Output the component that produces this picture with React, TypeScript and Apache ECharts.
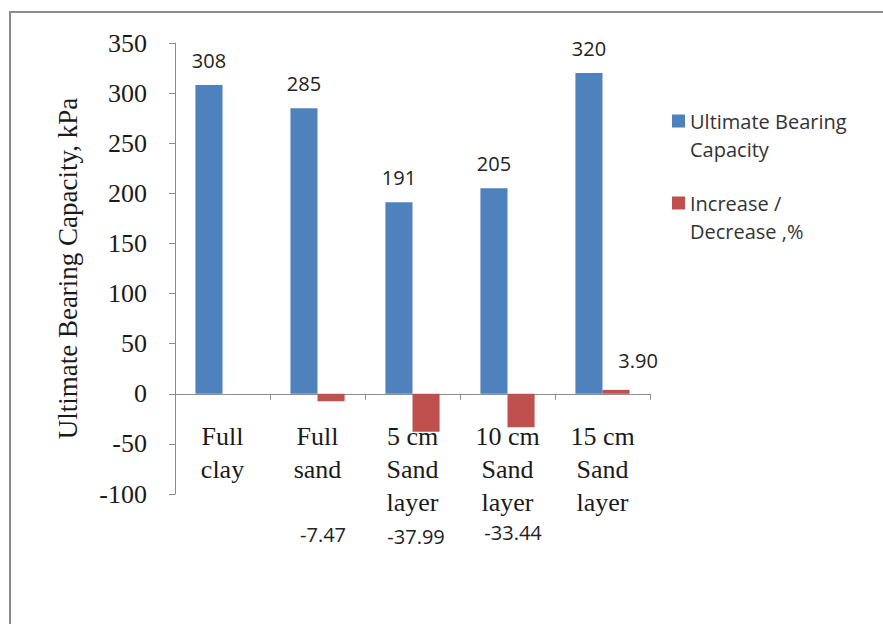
import React, { useEffect, useRef } from "react";
import * as echarts from "echarts";

const categories = ["Full\nclay", "Full\nsand", "5 cm\nSand\nlayer", "10 cm\nSand\nlayer", "15 cm\nSand\nlayer"];
const bearingCapacity = [308, 285, 191, 205, 320];
const changePercent: (number | null)[] = [null, -7.47, -37.99, -33.44, 3.9];
const seriesNames = ["Ultimate Bearing\nCapacity", "Increase /\nDecrease ,%"];
const yTicks = { min: -100, max: 350, interval: 50 };
// label nudges (px) for the red data labels, as placed in the original
const changeLabelOffsets: [number, number][] = [[0, 0], [-8, 118], [-10, 90], [-8, 90], [22, -14]];

export default function App() {
  const ref = useRef<HTMLDivElement>(null);
  useEffect(() => {
    if (!ref.current) return;
    const chart = echarts.init(ref.current, null, { renderer: "svg" });
    const serif = "'Liberation Serif', 'Times New Roman', serif";
    const sans = "'Open Sans', 'Noto Sans', sans-serif";
    chart.setOption({
      animation: false,
      backgroundColor: "#ffffff",
      graphic: [
        {
          type: "rect",
          shape: { x: 10, y: 12, width: 900, height: 640 },
          style: { fill: "none", stroke: "#8c8c8c", lineWidth: 2 },
          silent: true,
        },
      ],
      legend: {
        orient: "vertical",
        left: 667,
        top: 74,
        itemWidth: 13,
        itemHeight: 13,
        itemGap: -2,
        icon: "rect",
        formatter: (name: string) => "\n" + name,
        textStyle: {
          fontFamily: sans,
          fontSize: 20,
          color: "#333333",
          lineHeight: 28,
        },
        data: seriesNames,
      },
      grid: { left: 175, right: 233, top: 43, bottom: 130, containLabel: false },
      xAxis: {
        type: "category",
        data: categories,
        axisLine: { onZero: true, lineStyle: { color: "#8c8c8c", width: 1 } },
        axisTick: { show: true, length: 6, lineStyle: { color: "#8c8c8c" } },
        axisLabel: {
          interval: 0,
          margin: -74,
          fontFamily: serif,
          fontSize: 26,
          lineHeight: 33,
          color: "#1a1a1a",
          verticalAlign: "top",
        },
      },
      yAxis: {
        type: "value",
        min: yTicks.min,
        max: yTicks.max,
        interval: yTicks.interval,
        name: "Ultimate Bearing Capacity, kPa",
        nameLocation: "middle",
        nameGap: 94,
        nameRotate: 90,
        nameTextStyle: { fontFamily: serif, fontSize: 27, color: "#1a1a1a" },
        axisLine: { show: true, lineStyle: { color: "#8c8c8c", width: 1 } },
        axisTick: { show: true, length: 6, lineStyle: { color: "#8c8c8c" } },
        splitLine: { show: false },
        axisLabel: { margin: 28, fontFamily: serif, fontSize: 26, color: "#1a1a1a" },
      },
      series: [
        {
          name: seriesNames[0],
          type: "bar",
          data: bearingCapacity,
          barGap: "0%",
          barCategoryGap: "43%",
          itemStyle: { color: "#4f81bd" },
          label: {
            show: true,
            position: "top",
            distance: 15,
            fontFamily: sans,
            fontSize: 20,
            color: "#222222",
          },
        },
        {
          name: seriesNames[1],
          type: "bar",
          data: changePercent.map((v, i) =>
            v === null
              ? null
              : {
                  value: v,
                  label: {
                    position: v < 0 ? "bottom" : "top",
                    offset: changeLabelOffsets[i],
                  },
                }
          ),
          barGap: "0%",
          barCategoryGap: "43%",
          itemStyle: { color: "#c0504d" },
          label: {
            show: true,
            distance: 5,
            fontFamily: sans,
            fontSize: 20,
            color: "#222222",
            formatter: (p: any) => Number(p.value).toFixed(2),
          },
        },
      ],
    });
    return () => chart.dispose();
  }, []);
  return (
    <div
      ref={ref}
      style={{ position: "fixed", left: 0, top: 0, width: 883, height: 624 }}
    />
  );
}
